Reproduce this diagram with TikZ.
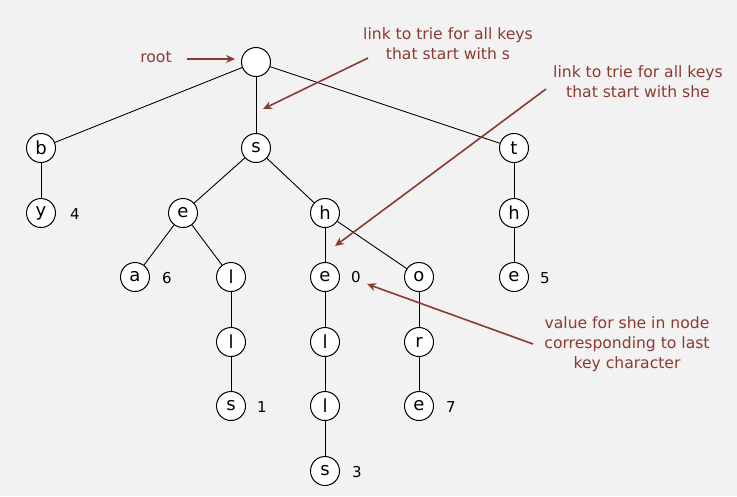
\documentclass[tikz,border=0pt]{standalone}
\usepackage{fontspec}
\setmainfont{DejaVu Sans}
\usetikzlibrary{arrows.meta}
\definecolor{bgc}{RGB}{242,242,242}
\definecolor{note}{RGB}{139,58,50}
\tikzset{
  tnode/.style={circle,draw=black,fill=white,line width=1pt,minimum size=29pt,inner sep=0pt,font=\fontsize{18}{18}\selectfont},
  edge/.style={draw=black,line width=0.9pt},
  val/.style={inner sep=0pt,font=\fontsize{15}{15}\selectfont},
  notetext/.style={text=note,align=center,inner sep=0pt,font=\fontsize{15.6}{20}\selectfont},
  notearrow/.style={draw=note,line width=1.6pt,-{Stealth[length=9pt,width=8pt,inset=3pt]}}
}
\begin{document}
\begin{tikzpicture}[x=1pt,y=-1pt]
\useasboundingbox[fill=bgc] (0,0) rectangle (737,496);
% tree nodes
\node[tnode] (root) at (256,62) {};
\node[tnode] (b) at (41,148) {b};
\node[tnode] (s) at (256,148) {s};
\node[tnode] (t) at (514,148) {t};
\node[tnode] (y) at (41,213) {y};
\node[tnode] (se) at (183,213) {e};
\node[tnode] (sh) at (325,213) {h};
\node[tnode] (th) at (514,213) {h};
\node[tnode] (sea) at (135,277) {a};
\node[tnode] (sel) at (231,277) {l};
\node[tnode] (she) at (325,277) {e};
\node[tnode] (sho) at (419,277) {o};
\node[tnode] (the) at (514,277) {e};
\node[tnode] (sell) at (231,342) {l};
\node[tnode] (shel) at (325,342) {l};
\node[tnode] (shor) at (419,342) {r};
\node[tnode] (sells) at (231,406) {s};
\node[tnode] (shell) at (325,406) {l};
\node[tnode] (shore) at (419,406) {e};
\node[tnode] (shells) at (325,471) {s};
% edges
\path[edge] (root) -- (b);
\path[edge] (root) -- (s);
\path[edge] (root) -- (t);
\path[edge] (b) -- (y);
\path[edge] (s) -- (se);
\path[edge] (s) -- (sh);
\path[edge] (t) -- (th);
\path[edge] (se) -- (sea);
\path[edge] (se) -- (sel);
\path[edge] (sh) -- (she);
\path[edge] (sh) -- (sho);
\path[edge] (th) -- (the);
\path[edge] (sel) -- (sell);
\path[edge] (she) -- (shel);
\path[edge] (sho) -- (shor);
\path[edge] (sell) -- (sells);
\path[edge] (shel) -- (shell);
\path[edge] (shor) -- (shore);
\path[edge] (shell) -- (shells);
% values
\node[val] (v4) at (75,214) {4};
\node[val] (v6) at (167,278) {6};
\node[val] (v0) at (356,277) {0};
\node[val] (v5) at (545,278) {5};
\node[val] (v1) at (262,407) {1};
\node[val] (v7) at (451,407) {7};
\node[val] (v3) at (357,472) {3};
% notes
\node[notetext] (lroot) at (156,57) {root};
\node[notetext] (l1) at (448,44) {link to trie for all keys\\that start with s};
\node[notetext] (l2) at (638,82) {link to trie for all keys\\that start with she};
\node[notetext] (l3) at (627,344) {value for she in node\\corresponding to last\\key character};
\coordinate (a0s) at (187,59);
\coordinate (a0e) at (235,59);
\coordinate (a1s) at (368,58);
\coordinate (a1e) at (263,109);
\coordinate (a2s) at (546,89);
\coordinate (a2e) at (335,246);
\coordinate (a3s) at (533,344);
\coordinate (a3e) at (367,284);
\draw[notearrow] (a0s) -- (a0e);
\draw[notearrow] (a1s) -- (a1e);
\draw[notearrow] (a2s) -- (a2e);
\draw[notearrow] (a3s) -- (a3e);
\end{tikzpicture}
\end{document}
